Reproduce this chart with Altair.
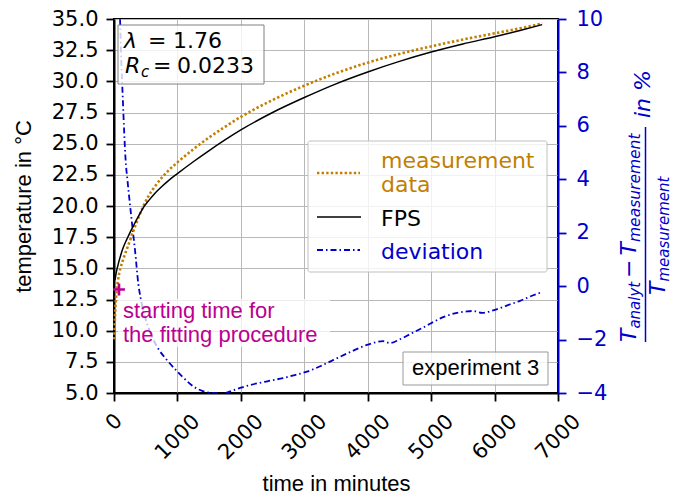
import altair as alt
import pandas as pd

# measured temperature (time in minutes, temperature in °C)
meas_t = [5, 15, 30, 45, 60, 80, 100, 130, 160, 200, 250, 300, 350, 400, 460, 550, 650, 750, 850, 1000,
          1250, 1500, 1750, 2000, 2500, 3000, 3500, 4000, 4500, 5000, 5500, 6000, 6400, 6750]
meas_T = [9.3, 11.0, 12.5, 13.35, 13.95, 14.55, 15.0, 15.5, 15.95, 16.5, 17.2, 17.95, 18.6, 19.25, 19.95,
          20.85, 21.6, 22.25, 22.8, 23.5, 24.55, 25.5, 26.35, 27.15, 28.5, 29.65, 30.65, 31.5, 32.2, 32.8,
          33.35, 33.85, 34.25, 34.65]

# FPS model temperature
fps_t = [15, 30, 45, 60, 80, 100, 130, 160, 200, 250, 300, 350, 400, 460, 550, 650, 750, 850, 1000,
         1250, 1500, 1750, 2000, 2500, 3000, 3500, 4000, 4500, 5000, 5500, 6000, 6400, 6750]
fps_T = [14.05, 14.5, 14.9, 15.2, 15.6, 15.95, 16.45, 16.85, 17.3, 17.85, 18.35, 18.85, 19.3, 19.85, 20.45,
         21.05, 21.55, 22.0, 22.6, 23.55, 24.45, 25.3, 26.1, 27.5, 28.7, 29.8, 30.75, 31.6, 32.35, 33.0,
         33.58, 34.08, 34.55]

# relative deviation in %
dev_t = [60, 80, 95, 115, 134, 160, 181, 215, 250, 300, 331, 383, 420, 460, 500, 550, 600, 700, 836, 1000,
         1100, 1250, 1400, 1550, 1700, 1800, 1900, 2000, 2150, 2400, 2664, 2850, 3043, 3250, 3453, 3721,
         3989, 4241, 4351, 4500, 4667, 4850, 4998, 5200, 5408, 5550, 5660, 5802, 5990, 6200, 6401, 6600, 6748]
dev_v = [11.5, 10.6, 10.0, 8.4, 7.3, 5.8, 4.8, 3.9, 3.1, 2.0, 1.35, 0.1, -0.45, -0.9, -1.25, -1.6, -1.9,
         -2.35, -2.77, -3.2, -3.44, -3.75, -3.93, -4.0, -4.02, -3.97, -3.88, -3.8, -3.7, -3.57, -3.44, -3.33,
         -3.2, -3.0, -2.77, -2.47, -2.2, -2.06, -2.13, -2.0, -1.8, -1.58, -1.39, -1.15, -1.0, -0.95, -0.93,
         -1.0, -0.9, -0.72, -0.55, -0.35, -0.22]

# start of the fitting procedure
start_t = [79]
start_T = [13.3]

x_ticks = [0, 1000, 2000, 3000, 4000, 5000, 6000, 7000]
left_ticks = [5.0, 7.5, 10.0, 12.5, 15.0, 17.5, 20.0, 22.5, 25.0, 27.5, 30.0, 32.5, 35.0]
right_ticks = [-4, -2, 0, 2, 4, 6, 8, 10]

ORANGE = "#c27f00"
BLUE = "#0000cc"
MAGENTA = "#bb0090"
GRID = "#b8b8b8"
W, H = 444, 374

df_meas = pd.DataFrame({"t": meas_t, "T": meas_T})
df_fps = pd.DataFrame({"t": fps_t, "T": fps_T})
df_dev = pd.DataFrame({"t": dev_t, "dev": dev_v})
df_start = pd.DataFrame({"t": start_t, "T": start_T})
one = pd.DataFrame({"k": [0]})

# rotated labels sit centred under their ticks; the short "0" sits closer to the axis
x_label_pad = {"condition": {"test": "datum.value == 0", "value": 21}, "value": 36}

x_axis = alt.Axis(values=x_ticks, format="d", labelAngle=-45, labelAlign="center", labelBaseline="middle",
                  labelPadding=x_label_pad, labelFlush=False, labelOverlap=False, tickSize=8, tickWidth=1.8,
                  tickColor="black", domainColor="black", domainWidth=2, labelFont="DejaVu Sans",
                  labelFontSize=21, labelColor="black", grid=True, gridColor=GRID, gridWidth=1,
                  title="time in minutes", titleFont="Liberation Sans", titleFontSize=22,
                  titleFontWeight="normal", titleColor="black", titleY=97, titleBaseline="alphabetic")
x_enc = alt.X("t:Q", scale=alt.Scale(domain=[0, 7000], nice=False, zero=False), axis=x_axis)

left_axis = alt.Axis(orient="left", values=left_ticks, format=".1f", labelFlush=False, labelOverlap=False,
                     tickSize=8, tickWidth=1.8, tickColor="black", domainColor="black", domainWidth=2,
                     labelPadding=8, labelFont="DejaVu Sans", labelFontSize=21, labelColor="black",
                     grid=True, gridColor=GRID, gridWidth=1, title="temperature in °C",
                     titleFont="Liberation Sans", titleFontSize=22, titleFontWeight="normal",
                     titleColor="black", titleAngle=270, titleX=-84, titleY=187, titleAlign="center",
                     titleBaseline="alphabetic")
y_left = alt.Y("T:Q", scale=alt.Scale(domain=[5, 35], nice=False, zero=False), axis=left_axis)

right_axis = alt.Axis(orient="right", values=right_ticks, format="d", labelFlush=False, labelOverlap=False,
                      tickSize=8, tickWidth=1.8, tickColor=BLUE, domainColor=BLUE, domainWidth=2,
                      labelPadding=10, labelFont="DejaVu Sans", labelFontSize=21, labelColor=BLUE,
                      grid=False, title="")
y_right = alt.Y("dev:Q", scale=alt.Scale(domain=[-4, 10], nice=False, zero=False), axis=right_axis)


def txt(text, x, y, size=22, font="DejaVu Sans", color="black", style="normal", angle=0):
    return alt.Chart(one).mark_text(text=text, font=font, fontSize=size, fontStyle=style, color=color,
                                    angle=angle, align="left", baseline="alphabetic").encode(
        x=alt.value(x), y=alt.value(y))


def box(x0, y0, x1, y1, stroke=None, opacity=0.8, radius=0):
    props = dict(fill="white", fillOpacity=opacity, cornerRadius=radius)
    if stroke:
        props.update(stroke=stroke, strokeWidth=1)
    return alt.Chart(one).mark_rect(**props).encode(
        x=alt.value(x0), x2=alt.value(x1), y=alt.value(y0), y2=alt.value(y1))


def sample(x0, x1, y, color, width, dash=None):
    props = dict(color=color, strokeWidth=width)
    if dash:
        props["strokeDash"] = dash
    return alt.Chart(one).mark_rule(**props).encode(x=alt.value(x0), x2=alt.value(x1), y=alt.value(y))


dev_line = alt.Chart(df_dev).mark_line(color=BLUE, strokeWidth=1.8, strokeDash=[6, 3, 1.5, 3],
                                       interpolate="monotone", clip=True).encode(
    x=x_enc, y=y_right, order="t:Q")

meas_line = alt.Chart(df_meas).mark_line(color=ORANGE, strokeWidth=2.6, strokeDash=[2.4, 2.2],
                                         interpolate="monotone").encode(x=x_enc, y=y_left, order="t:Q")
fps_line = alt.Chart(df_fps).mark_line(color="black", strokeWidth=1.5, interpolate="monotone").encode(
    x=x_enc, y=y_left, order="t:Q")
start_mark = alt.Chart(df_start).mark_point(shape="M-1,0H1M0,-1V1", size=140, filled=False,
                                            strokeWidth=2.6, color=MAGENTA, opacity=1).encode(
    x=x_enc, y=y_left)

# parameter box
params = [
    box(4, 6, 150, 65, stroke="#808080"),
    txt("λ", 10, 29, style="italic"),
    txt("=", 34, 29),
    txt("1.76", 59, 29),
    txt("R", 11, 54, style="italic"),
    txt("c", 27, 58, size=15, style="italic"),
    txt("=", 39, 54),
    txt("0.0233", 63, 54),
]

# legend
legend = [
    box(194, 122, 433, 253, stroke="#c0c0c0", radius=2),
    sample(203, 246, 154, ORANGE, 2.6, [2.4, 2.2]),
    sample(203, 247, 198, "black", 1.5),
    sample(203, 246, 231, BLUE, 1.8, [6, 3, 1.5, 3]),
    txt("measurement", 267, 149, color=ORANGE),
    txt("data", 267, 173, color=ORANGE),
    txt("FPS", 267, 207),
    txt("deviation", 267, 240, color=BLUE),
]

# fitting start note and experiment tag
notes = [
    box(4, 280, 216, 328, opacity=0.75),
    txt("starting time for", 9, 299, font="Liberation Sans", color=MAGENTA),
    txt("the fitting procedure", 9, 323, font="Liberation Sans", color=MAGENTA),
    box(289, 333, 434, 366, stroke="#999999"),
    txt("experiment 3", 298, 356, font="Liberation Sans"),
]

# right axis title: (T_analyt - T_measurement) / T_measurement in %
right_title = [
    txt("T", 522, 323, color=BLUE, style="italic", angle=270),
    txt("analyt", 526, 309.6, size=15, color=BLUE, style="italic", angle=270),
    txt("−", 522, 259, color=BLUE, angle=270),
    txt("T", 522, 236.4, color=BLUE, style="italic", angle=270),
    txt("measurement", 526, 223, size=15.5, color=BLUE, style="italic", angle=270),
    alt.Chart(one).mark_rule(color=BLUE, strokeWidth=1.5).encode(
        x=alt.value(531.5), y=alt.value(108), y2=alt.value(323)),
    txt("T", 551, 276, color=BLUE, style="italic", angle=270),
    txt("measurement", 555, 262.6, size=15, color=BLUE, style="italic", angle=270),
    txt("in %", 536, 99, color=BLUE, style="italic", angle=270),
]

left = alt.layer(meas_line, fps_line, start_mark, *params, *legend, *notes, *right_title)

chart = alt.layer(dev_line, left).resolve_scale(y="independent").properties(
    width=W, height=H,
    padding={"left": 114, "top": 19, "right": 123, "bottom": 102},
    autosize=alt.AutoSizeParams(type="none"),
    background="white",
).configure_view(stroke="black", strokeWidth=2)

chart.save("out.html", embed_options={"renderer": "svg", "actions": False})
